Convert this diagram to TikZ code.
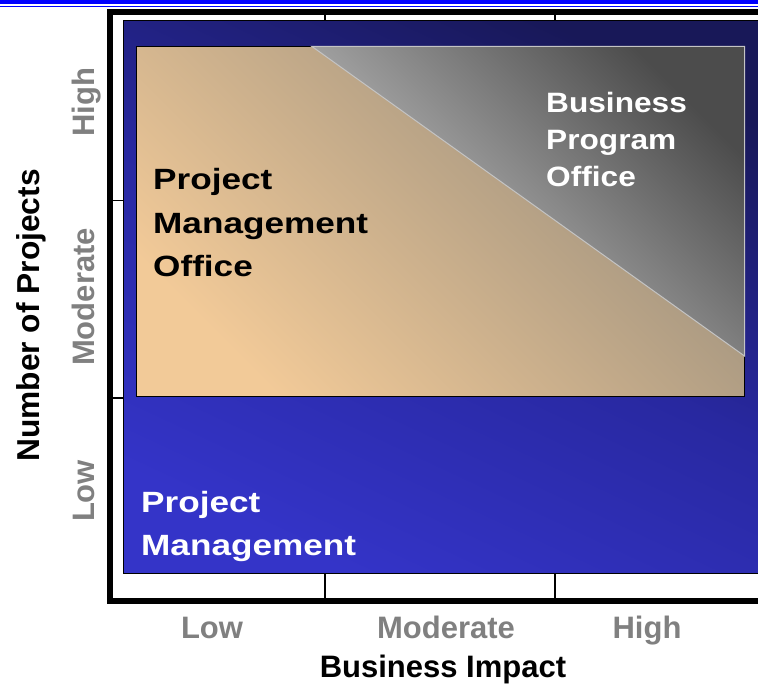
\documentclass[tikz,border=0pt]{standalone}
\usepackage{fontspec}
\setmainfont{Liberation Sans}
\newfontfamily\widesans{Liberation Sans}[FakeStretch=1.13]
\newfontfamily\widersans{Liberation Sans}[FakeStretch=1.2]

\definecolor{stripe}{RGB}{0,0,255}
\definecolor{panellow}{RGB}{52,52,200}
\definecolor{panelmid}{RGB}{40,40,160}
\definecolor{panelhigh}{RGB}{24,24,88}
\definecolor{tanlow}{RGB}{242,202,152}
\definecolor{tanhigh}{RGB}{150,140,124}
\definecolor{greylow}{RGB}{210,210,210}
\definecolor{greyhigh}{RGB}{76,76,76}
\definecolor{greyedge}{RGB}{196,196,196}
\definecolor{levelgrey}{RGB}{128,128,128}

\begin{document}
\begin{tikzpicture}[x=1pt,y=-1pt,
  frame/.style={line width=6pt},
  tick/.style={line width=1.5pt},
  level/.style={inner sep=0pt, anchor=base, text=levelgrey, font=\bfseries\fontsize{31}{31}\selectfont},
  sidelevel/.style={level, rotate=90},
  region/.style={inner sep=0pt, anchor=base west, align=left}]
\useasboundingbox (0,0) rectangle (758,684);
\clip (0,0) rectangle (758,684);

% blue rule along the top
\fill[stripe] (0,0) rectangle (758,4.3);
\fill[stripe] (0,5.7) rectangle (758,7.3);

% axes frame with the grid ticks
\draw[frame] (770,12.3) -| (110,600.5) -- (770,600.5);
\foreach \x in {325,555} {
  \draw[tick] (\x,15) -- (\x,21);
  \draw[tick] (\x,573) -- (\x,598);
}
\foreach \y in {200.5,398}
  \draw[tick] (113,\y) -- (123,\y);

% the three regions
\shadedraw[draw=black, line width=1pt, bottom color=panellow, top color=panelhigh, middle color=panelmid, shading angle=-25] (123,20.7) rectangle (770,573);
\shadedraw[draw=black, line width=1pt, bottom color=tanlow, top color=tanhigh, shading angle=-45] (136,46.5) rectangle (744.5,397);
\shadedraw[draw=greyedge, line width=1pt, bottom color=greylow, top color=greyhigh, shading angle=-45] (312,46.5) -- (744.5,46.5) -- (744.5,356) -- cycle;

% last line of each block sits on the given baseline
\node[region, text=white, font=\widesans\bfseries\fontsize{28}{37}\selectfont] (bpo) at (546,187) {Business\\Program\\Office};
\node[region, font=\widersans\bfseries\fontsize{29.3}{43.5}\selectfont] (pmo) at (153,277) {Project\\Management\\Office};
\node[region, text=white, font=\widersans\bfseries\fontsize{29.3}{43}\selectfont] (pm) at (141,555) {Project\\Management};

% axis labels
\node[level] (xlow) at (212,638) {Low};
\node[level] (xmod) at (446,638) {Moderate};
\node[level] (xhigh) at (647,638) {High};
\node[level, text=black] (xname) at (443,677) {Business Impact};

\node[sidelevel] (yhigh) at (94,102.5) {High};
\node[sidelevel] (ymod) at (94,297) {Moderate};
\node[sidelevel] (ylow) at (94,491) {Low};
\node[sidelevel, text=black, font=\bfseries\fontsize{31.7}{31.7}\selectfont] (yname) at (39.3,315.5) {Number of Projects};
\end{tikzpicture}
\end{document}
